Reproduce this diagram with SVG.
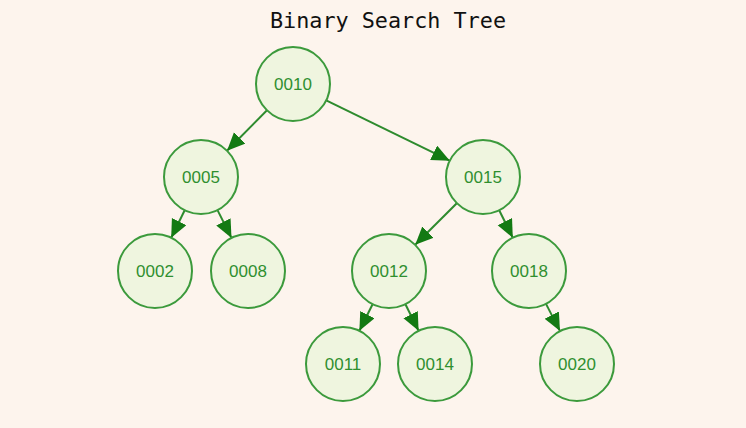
<svg xmlns="http://www.w3.org/2000/svg" width="746" height="428" viewBox="0 0 746 428">
<style>
.node circle{fill:#eff5df;stroke:#3c9a3c;stroke-width:2}
.node text{font-family:"Liberation Sans",Arial,sans-serif;font-size:17px;fill:#2f8f2f;text-anchor:middle;dominant-baseline:central}
.edge{stroke:#2e8b2e;stroke-width:2;fill:none;marker-end:url(#arrow)}
.title{font-family:"DejaVu Sans Mono","Liberation Mono",monospace;font-size:21.8px;fill:#111;text-anchor:middle}
</style>
<defs>
<marker id="arrow" markerUnits="userSpaceOnUse" markerWidth="19" markerHeight="17" refX="18" refY="8" orient="auto">
<path d="M0,0 L18,8 L0,16 z" fill="#137a13"/>
</marker>
</defs>
<rect width="746" height="428" fill="#fdf4ed"/>
<text class="title" x="388" y="28">Binary Search Tree</text>
<g id="connectors">
<line class="edge" x1="267" y1="110.3" x2="227" y2="150.7"/>
<line class="edge" x1="326.2" y1="100.3" x2="449.8" y2="160.7"/>
<line class="edge" x1="184.7" y1="210.2" x2="171.2" y2="237.8"/>
<line class="edge" x1="217.5" y1="210.1" x2="231.5" y2="237.9"/>
<line class="edge" x1="456.8" y1="203.2" x2="415.2" y2="244.8"/>
<line class="edge" x1="499.2" y1="210.2" x2="512.8" y2="237.8"/>
<line class="edge" x1="372.6" y1="304.2" x2="359.4" y2="330.8"/>
<line class="edge" x1="405.4" y1="304.2" x2="418.6" y2="330.8"/>
<line class="edge" x1="546" y1="303.9" x2="560" y2="331.1"/>
</g>
<g id="n0010" class="node"><circle cx="293" cy="84" r="37"/><text x="293" y="84">0010</text></g>
<g id="n0005" class="node"><circle cx="201" cy="177" r="37"/><text x="201" y="177">0005</text></g>
<g id="n0015" class="node"><circle cx="483" cy="177" r="37"/><text x="483" y="177">0015</text></g>
<g id="n0002" class="node"><circle cx="155" cy="271" r="37"/><text x="155" y="271">0002</text></g>
<g id="n0008" class="node"><circle cx="248" cy="271" r="37"/><text x="248" y="271">0008</text></g>
<g id="n0012" class="node"><circle cx="389" cy="271" r="37"/><text x="389" y="271">0012</text></g>
<g id="n0018" class="node"><circle cx="529" cy="271" r="37"/><text x="529" y="271">0018</text></g>
<g id="n0011" class="node"><circle cx="343" cy="364" r="37"/><text x="343" y="364">0011</text></g>
<g id="n0014" class="node"><circle cx="435" cy="364" r="37"/><text x="435" y="364">0014</text></g>
<g id="n0020" class="node"><circle cx="577" cy="364" r="37"/><text x="577" y="364">0020</text></g>
</svg>
